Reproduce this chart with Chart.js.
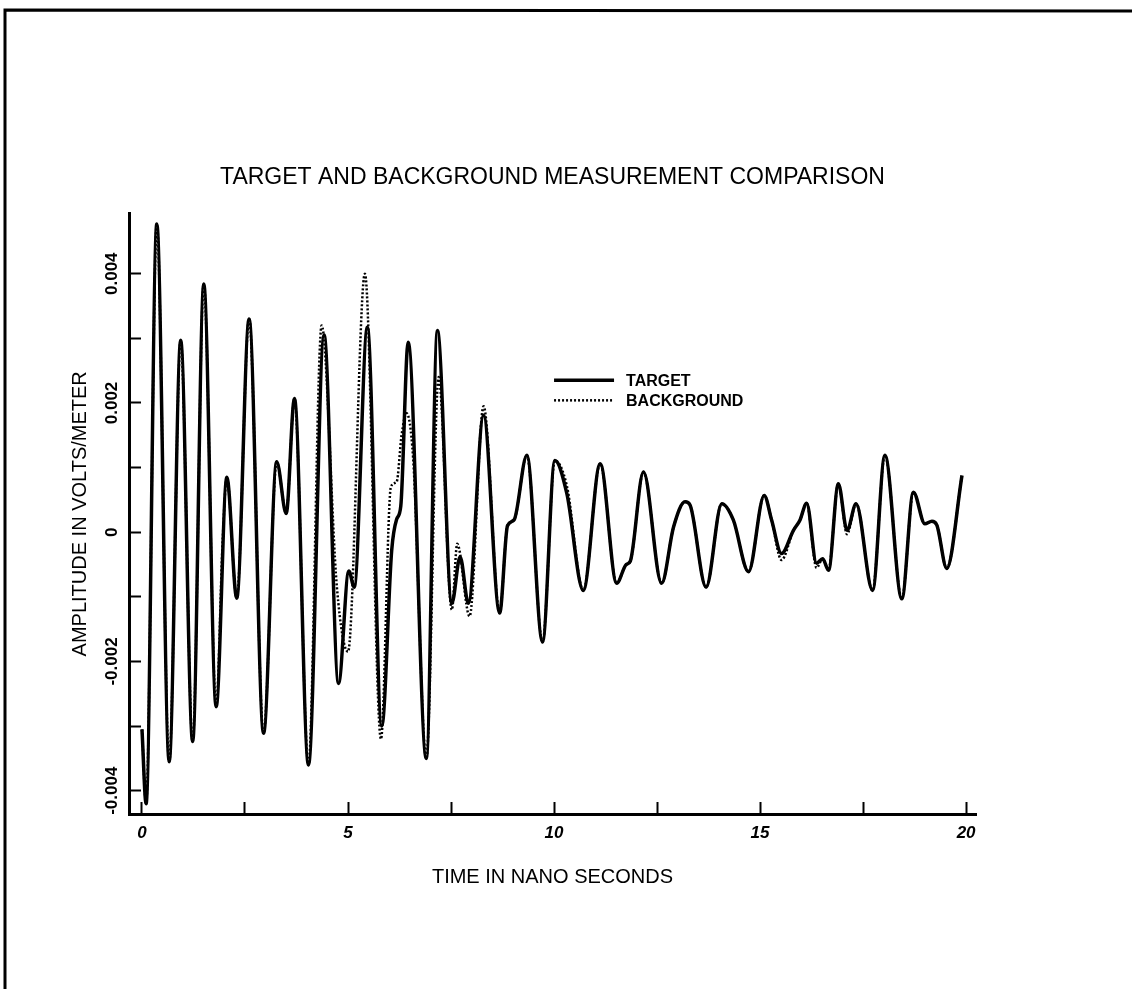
<!DOCTYPE html>
<html>
<head>
<meta charset="utf-8">
<title>Target and Background Measurement Comparison</title>
<script src="https://cdn.jsdelivr.net/npm/chart.js@4.4.1/dist/chart.umd.min.js"></script>
<style>
  html, body { margin: 0; padding: 0; background: #fff; }
</style>
</head>
<body>
<canvas id="waveChart" width="1132" height="989"></canvas>
<script>
// time axis in ns, amplitude in volts/meter
const targetTime = [
  0.00, 0.10, 0.36, 0.66, 0.94, 1.23, 1.50, 1.80, 2.06, 2.30,
  2.60, 2.95, 3.27, 3.50, 3.70, 4.04, 4.42, 4.77, 5.02, 5.15,
  5.47, 5.82, 6.06, 6.18, 6.28, 6.46, 6.90, 7.17, 7.52, 7.72,
  7.92, 8.29, 8.68, 8.87, 9.03, 9.34, 9.72, 10.02, 10.31, 10.71,
  11.12, 11.52, 11.75, 11.85, 12.17, 12.61, 12.90, 13.18, 13.30, 13.69,
  14.07, 14.35, 14.72, 15.10, 15.28, 15.52, 15.81, 15.97, 16.13, 16.37,
  16.52, 16.66, 16.90, 17.11, 17.33, 17.73, 18.03, 18.44, 18.72, 19.00,
  19.17, 19.29, 19.53, 19.90
];
const targetAmp = [
  -0.00305, -0.00420, 0.00477, -0.00355, 0.00297, -0.00324, 0.00384, -0.00270, 0.00085, -0.00102,
  0.00330, -0.00311, 0.00109, 0.00029, 0.00207, -0.00360, 0.00305, -0.00234, -0.00060, -0.00085,
  0.00317, -0.00300, -0.00028, 0.00020, 0.00040, 0.00294, -0.00350, 0.00312, -0.00110, -0.00038,
  -0.00110, 0.00181, -0.00125, 0.00010, 0.00019, 0.00119, -0.00170, 0.00111, 0.00060, -0.00090,
  0.00106, -0.00079, -0.00050, -0.00045, 0.00093, -0.00079, 0.00008, 0.00047, 0.00042, -0.00085,
  0.00044, 0.00019, -0.00061, 0.00057, 0.00019, -0.00033, 0.00003, 0.00019, 0.00045, -0.00048,
  -0.00041, -0.00059, 0.00075, 0.00003, 0.00044, -0.00090, 0.00119, -0.00103, 0.00062, 0.00013,
  0.00017, 0.00011, -0.00056, 0.00088
];

const backgroundTime = [
  0.00, 0.10, 0.36, 0.66, 0.94, 1.23, 1.50, 1.80, 1.96, 2.06,
  2.30, 2.60, 2.95, 3.27, 3.50, 3.70, 4.04, 4.36, 4.73, 5.00,
  5.41, 5.80, 6.04, 6.18, 6.30, 6.42, 6.58, 6.90, 7.20, 7.52,
  7.65, 7.95, 8.29, 8.68, 8.87, 9.03, 9.34, 9.72, 10.02, 10.31,
  10.71, 11.12, 11.52, 11.75, 11.85, 12.17, 12.61, 12.90, 13.18, 13.30,
  13.69, 14.07, 14.35, 14.72, 15.10, 15.28, 15.52, 15.81, 15.97, 16.13,
  16.37, 16.52, 16.66, 16.90, 17.11, 17.33, 17.73, 18.03, 18.44, 18.72,
  19.00, 19.17, 19.29, 19.53, 19.90
];
const backgroundAmp = [
  -0.00305, -0.00420, 0.00477, -0.00355, 0.00297, -0.00324, 0.00384, -0.00270, -0.00010, 0.00085,
  -0.00102, 0.00330, -0.00311, 0.00109, 0.00029, 0.00207, -0.00360, 0.00320, -0.00085, -0.00185,
  0.00400, -0.00320, 0.00070, 0.00078, 0.00150, 0.00184, 0.00115, -0.00350, 0.00240, -0.00120,
  -0.00018, -0.00130, 0.00195, -0.00125, 0.00010, 0.00019, 0.00119, -0.00170, 0.00111, 0.00072,
  -0.00090, 0.00106, -0.00079, -0.00050, -0.00045, 0.00093, -0.00079, 0.00008, 0.00047, 0.00042,
  -0.00085, 0.00044, 0.00019, -0.00061, 0.00057, 0.00019, -0.00043, 0.00003, 0.00019, 0.00045,
  -0.00055, -0.00041, -0.00059, 0.00075, -0.00003, 0.00044, -0.00090, 0.00119, -0.00103, 0.00062,
  0.00013, 0.00017, 0.00011, -0.00056, 0.00088
];

const seriesNames = ["TARGET", "BACKGROUND"];
const xTickLabels = ["0", "5", "10", "15", "20"];
const yTickLabels = ["-0.004", "-0.002", "0", "0.002", "0.004"];

const FONT = "'Liberation Sans', Arial, Helvetica, sans-serif";

function toPoints(times, amps) {
  return times.map((t, i) => ({ x: t, y: amps[i] }));
}

// page frame: only the top and left edges are ruled
const framePlugin = {
  id: "pageFrame",
  beforeDraw(chart) {
    const ctx = chart.ctx;
    ctx.save();
    ctx.fillStyle = "#fff";
    ctx.fillRect(0, 0, chart.width, chart.height);
    ctx.strokeStyle = "#000";
    ctx.lineWidth = 3;
    ctx.beginPath();
    ctx.moveTo(5, chart.height);
    ctx.lineTo(5, 10);
    ctx.lineTo(chart.width, 11);
    ctx.stroke();
    ctx.restore();
  }
};

// line key placed inside the plot, right of the 10 ns mark
const keyPlugin = {
  id: "lineKey",
  afterDraw(chart) {
    const { ctx, scales } = chart;
    const x0 = scales.x.getPixelForValue(10);
    let y = scales.y.getPixelForValue(0.00235);
    chart.data.datasets.forEach(ds => {
      ctx.save();
      ctx.strokeStyle = ds.borderColor;
      ctx.lineWidth = ds.borderWidth;
      ctx.setLineDash(ds.borderDash || []);
      ctx.beginPath();
      ctx.moveTo(x0, y);
      ctx.lineTo(x0 + 60, y);
      ctx.stroke();
      ctx.setLineDash([]);
      ctx.fillStyle = "#000";
      ctx.font = "bold 16px " + FONT;
      ctx.textBaseline = "middle";
      ctx.fillText(ds.label, x0 + 72, y + 1);
      ctx.restore();
      y += 20;
    });
  }
};

const ctx = document.getElementById("waveChart").getContext("2d");
const chart = new Chart(ctx, {
  type: "line",
  data: {
    datasets: [
      {
        label: seriesNames[0],
        data: toPoints(targetTime, targetAmp),
        borderColor: "#000",
        borderWidth: 3.5,
        pointRadius: 0,
        fill: false,
        cubicInterpolationMode: "monotone",
      },
      {
        label: seriesNames[1],
        data: toPoints(backgroundTime, backgroundAmp),
        borderColor: "#000",
        borderWidth: 2.5,
        borderDash: [2, 2],
        pointRadius: 0,
        fill: false,
        cubicInterpolationMode: "monotone",
      },
    ],
  },
  options: {
    responsive: false,
    animation: false,
    layout: { padding: { left: 60, right: 156, top: 0, bottom: 100 } },
    plugins: {
      legend: { display: false },
      tooltip: { enabled: false },
      title: {
        display: true,
        text: "TARGET AND BACKGROUND MEASUREMENT COMPARISON",
        fullSize: false,
        color: "#000",
        font: { family: FONT, size: 23, weight: "normal", lineHeight: 1.2 },
        padding: { top: 164, bottom: 22 },
      },
    },
    scales: {
      x: {
        type: "linear",
        min: -0.315,
        max: 20.24,
        border: { color: "#000", width: 3 },
        grid: { drawOnChartArea: false, tickLength: -12, tickWidth: 2, tickColor: "#000" },
        ticks: {
          stepSize: 2.5,
          includeBounds: false,
          autoSkip: false,
          maxRotation: 0,
          padding: 21,
          color: "#000",
          font: { family: FONT, size: 17, weight: "bold", style: "italic" },
          callback: v => xTickLabels.includes(String(v)) ? String(v) : "",
        },
        title: {
          display: true,
          text: "TIME IN NANO SECONDS",
          color: "#000",
          font: { family: FONT, size: 20, weight: "normal", lineHeight: 1.2 },
          padding: { top: 10, bottom: 0 },
        },
        afterFit: s => { s.height = 75; },
      },
      y: {
        min: -0.00436,
        max: 0.00493,
        border: { color: "#000", width: 3 },
        grid: { drawOnChartArea: false, tickLength: -12, tickWidth: 2, tickColor: "#000" },
        ticks: {
          stepSize: 0.001,
          includeBounds: false,
          autoSkip: false,
          minRotation: 90,
          maxRotation: 90,
          crossAlign: "center",
          padding: 5,
          color: "#000",
          font: { family: FONT, size: 17, weight: "bold" },
          callback: v => {
            const s = v === 0 ? "0" : v.toFixed(3);
            return yTickLabels.includes(s) ? s : "";
          },
        },
        title: {
          display: true,
          text: "AMPLITUDE IN VOLTS/METER",
          color: "#000",
          font: { family: FONT, size: 20, weight: "normal", lineHeight: 1.2 },
          padding: { top: 8, bottom: 0 },
        },
        afterFit: s => { s.width = 69; },
      },
    },
  },
  plugins: [framePlugin, keyPlugin],
});
</script>
</body>
</html>
